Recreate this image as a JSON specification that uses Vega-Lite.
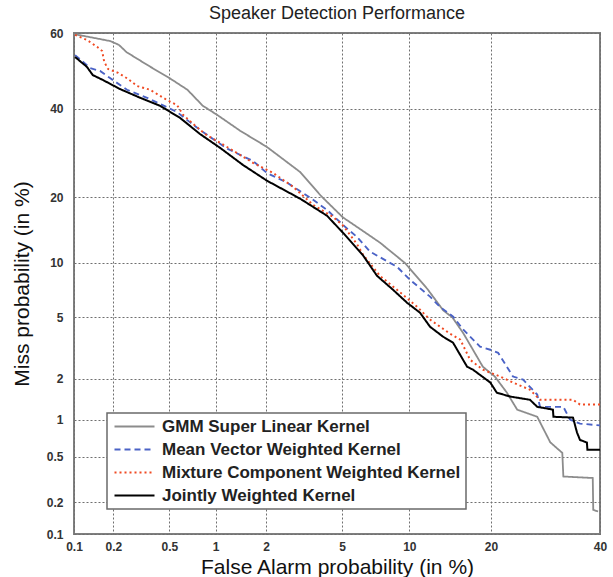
{
  "$schema": "https://vega.github.io/schema/vega-lite/v6.json",
  "width": 526,
  "height": 501,
  "autosize": "none",
  "padding": {"left": 74, "top": 33, "right": 13, "bottom": 43},
  "background": "white",
  "title": {"text": "Speaker Detection Performance", "fontSize": 18, "fontWeight": "normal", "font": "Liberation Sans", "color": "#222", "offset": 4},
  "datasets": {
    "det": [
      {"series": "GMM Super Linear Kernel", "fa": 0.10, "miss": 59.7},
      {"series": "GMM Super Linear Kernel", "fa": 0.13, "miss": 59.0},
      {"series": "GMM Super Linear Kernel", "fa": 0.19, "miss": 57.9},
      {"series": "GMM Super Linear Kernel", "fa": 0.22, "miss": 56.9},
      {"series": "GMM Super Linear Kernel", "fa": 0.25, "miss": 55.0},
      {"series": "GMM Super Linear Kernel", "fa": 0.30, "miss": 53.2},
      {"series": "GMM Super Linear Kernel", "fa": 0.37, "miss": 51.1},
      {"series": "GMM Super Linear Kernel", "fa": 0.51, "miss": 47.9},
      {"series": "GMM Super Linear Kernel", "fa": 0.66, "miss": 45.0},
      {"series": "GMM Super Linear Kernel", "fa": 0.83, "miss": 40.8},
      {"series": "GMM Super Linear Kernel", "fa": 1.02, "miss": 38.5},
      {"series": "GMM Super Linear Kernel", "fa": 1.41, "miss": 34.5},
      {"series": "GMM Super Linear Kernel", "fa": 2.02, "miss": 30.6},
      {"series": "GMM Super Linear Kernel", "fa": 3.07, "miss": 25.0},
      {"series": "GMM Super Linear Kernel", "fa": 3.94, "miss": 20.2},
      {"series": "GMM Super Linear Kernel", "fa": 5.06, "miss": 16.4},
      {"series": "GMM Super Linear Kernel", "fa": 5.89, "miss": 14.9},
      {"series": "GMM Super Linear Kernel", "fa": 7.49, "miss": 12.6},
      {"series": "GMM Super Linear Kernel", "fa": 9.59, "miss": 10.0},
      {"series": "GMM Super Linear Kernel", "fa": 11.8, "miss": 7.3},
      {"series": "GMM Super Linear Kernel", "fa": 13.6, "miss": 5.5},
      {"series": "GMM Super Linear Kernel", "fa": 14.7, "miss": 5.0},
      {"series": "GMM Super Linear Kernel", "fa": 16.1, "miss": 4.0},
      {"series": "GMM Super Linear Kernel", "fa": 17.4, "miss": 3.14},
      {"series": "GMM Super Linear Kernel", "fa": 18.8, "miss": 2.42},
      {"series": "GMM Super Linear Kernel", "fa": 20.6, "miss": 2.07},
      {"series": "GMM Super Linear Kernel", "fa": 22.5, "miss": 1.59},
      {"series": "GMM Super Linear Kernel", "fa": 24.2, "miss": 1.19},
      {"series": "GMM Super Linear Kernel", "fa": 27.7, "miss": 1.05},
      {"series": "GMM Super Linear Kernel", "fa": 30.1, "miss": 0.66},
      {"series": "GMM Super Linear Kernel", "fa": 32.4, "miss": 0.54},
      {"series": "GMM Super Linear Kernel", "fa": 32.6, "miss": 0.34},
      {"series": "GMM Super Linear Kernel", "fa": 38.5, "miss": 0.33},
      {"series": "GMM Super Linear Kernel", "fa": 38.6, "miss": 0.17},
      {"series": "GMM Super Linear Kernel", "fa": 39.6, "miss": 0.164},

      {"series": "Mean Vector Weighted Kernel", "fa": 0.102, "miss": 54.2},
      {"series": "Mean Vector Weighted Kernel", "fa": 0.118, "miss": 52.4},
      {"series": "Mean Vector Weighted Kernel", "fa": 0.133, "miss": 50.8},
      {"series": "Mean Vector Weighted Kernel", "fa": 0.159, "miss": 50.0},
      {"series": "Mean Vector Weighted Kernel", "fa": 0.189, "miss": 48.1},
      {"series": "Mean Vector Weighted Kernel", "fa": 0.252, "miss": 45.0},
      {"series": "Mean Vector Weighted Kernel", "fa": 0.351, "miss": 42.9},
      {"series": "Mean Vector Weighted Kernel", "fa": 0.432, "miss": 41.3},
      {"series": "Mean Vector Weighted Kernel", "fa": 0.563, "miss": 39.2},
      {"series": "Mean Vector Weighted Kernel", "fa": 0.655, "miss": 37.2},
      {"series": "Mean Vector Weighted Kernel", "fa": 0.796, "miss": 34.7},
      {"series": "Mean Vector Weighted Kernel", "fa": 0.963, "miss": 32.5},
      {"series": "Mean Vector Weighted Kernel", "fa": 1.18, "miss": 30.2},
      {"series": "Mean Vector Weighted Kernel", "fa": 1.68, "miss": 27.4},
      {"series": "Mean Vector Weighted Kernel", "fa": 2.02, "miss": 24.8},
      {"series": "Mean Vector Weighted Kernel", "fa": 2.61, "miss": 22.8},
      {"series": "Mean Vector Weighted Kernel", "fa": 3.46, "miss": 19.9},
      {"series": "Mean Vector Weighted Kernel", "fa": 4.22, "miss": 17.7},
      {"series": "Mean Vector Weighted Kernel", "fa": 5.06, "miss": 15.2},
      {"series": "Mean Vector Weighted Kernel", "fa": 5.89, "miss": 13.4},
      {"series": "Mean Vector Weighted Kernel", "fa": 6.76, "miss": 11.4},
      {"series": "Mean Vector Weighted Kernel", "fa": 8.88, "miss": 9.56},
      {"series": "Mean Vector Weighted Kernel", "fa": 10.06, "miss": 8.18},
      {"series": "Mean Vector Weighted Kernel", "fa": 12.1, "miss": 6.6},
      {"series": "Mean Vector Weighted Kernel", "fa": 13.2, "miss": 5.78},
      {"series": "Mean Vector Weighted Kernel", "fa": 14.8, "miss": 5.05},
      {"series": "Mean Vector Weighted Kernel", "fa": 16.1, "miss": 4.21},
      {"series": "Mean Vector Weighted Kernel", "fa": 18.4, "miss": 3.29},
      {"series": "Mean Vector Weighted Kernel", "fa": 19.9, "miss": 3.14},
      {"series": "Mean Vector Weighted Kernel", "fa": 21.1, "miss": 3.0},
      {"series": "Mean Vector Weighted Kernel", "fa": 23.5, "miss": 2.07},
      {"series": "Mean Vector Weighted Kernel", "fa": 25.2, "miss": 1.97},
      {"series": "Mean Vector Weighted Kernel", "fa": 27.7, "miss": 1.54},
      {"series": "Mean Vector Weighted Kernel", "fa": 28.2, "miss": 1.25},
      {"series": "Mean Vector Weighted Kernel", "fa": 32.6, "miss": 1.25},
      {"series": "Mean Vector Weighted Kernel", "fa": 33.9, "miss": 1.0},
      {"series": "Mean Vector Weighted Kernel", "fa": 35.9, "miss": 0.93},
      {"series": "Mean Vector Weighted Kernel", "fa": 40.0, "miss": 0.9},

      {"series": "Mixture Component Weighted Kernel", "fa": 0.102, "miss": 59.5},
      {"series": "Mixture Component Weighted Kernel", "fa": 0.126, "miss": 58.2},
      {"series": "Mixture Component Weighted Kernel", "fa": 0.151, "miss": 56.4},
      {"series": "Mixture Component Weighted Kernel", "fa": 0.165, "miss": 55.3},
      {"series": "Mixture Component Weighted Kernel", "fa": 0.171, "miss": 52.4},
      {"series": "Mixture Component Weighted Kernel", "fa": 0.183, "miss": 50.5},
      {"series": "Mixture Component Weighted Kernel", "fa": 0.217, "miss": 49.5},
      {"series": "Mixture Component Weighted Kernel", "fa": 0.256, "miss": 47.9},
      {"series": "Mixture Component Weighted Kernel", "fa": 0.298, "miss": 46.0},
      {"series": "Mixture Component Weighted Kernel", "fa": 0.368, "miss": 45.0},
      {"series": "Mixture Component Weighted Kernel", "fa": 0.482, "miss": 42.3},
      {"series": "Mixture Component Weighted Kernel", "fa": 0.563, "miss": 41.0},
      {"series": "Mixture Component Weighted Kernel", "fa": 0.617, "miss": 38.5},
      {"series": "Mixture Component Weighted Kernel", "fa": 0.718, "miss": 36.2},
      {"series": "Mixture Component Weighted Kernel", "fa": 0.857, "miss": 33.7},
      {"series": "Mixture Component Weighted Kernel", "fa": 1.176, "miss": 30.6},
      {"series": "Mixture Component Weighted Kernel", "fa": 1.68, "miss": 27.0},
      {"series": "Mixture Component Weighted Kernel", "fa": 2.19, "miss": 24.8},
      {"series": "Mixture Component Weighted Kernel", "fa": 2.81, "miss": 22.0},
      {"series": "Mixture Component Weighted Kernel", "fa": 3.58, "miss": 18.6},
      {"series": "Mixture Component Weighted Kernel", "fa": 4.52, "miss": 16.5},
      {"series": "Mixture Component Weighted Kernel", "fa": 5.06, "miss": 15.1},
      {"series": "Mixture Component Weighted Kernel", "fa": 5.89, "miss": 12.4},
      {"series": "Mixture Component Weighted Kernel", "fa": 6.29, "miss": 11.0},
      {"series": "Mixture Component Weighted Kernel", "fa": 7.49, "miss": 8.58},
      {"series": "Mixture Component Weighted Kernel", "fa": 8.88, "miss": 7.21},
      {"series": "Mixture Component Weighted Kernel", "fa": 10.75, "miss": 5.78},
      {"series": "Mixture Component Weighted Kernel", "fa": 12.1, "miss": 4.85},
      {"series": "Mixture Component Weighted Kernel", "fa": 14.4, "miss": 3.98},
      {"series": "Mixture Component Weighted Kernel", "fa": 15.7, "miss": 3.65},
      {"series": "Mixture Component Weighted Kernel", "fa": 17.0, "miss": 2.70},
      {"series": "Mixture Component Weighted Kernel", "fa": 18.8, "miss": 2.31},
      {"series": "Mixture Component Weighted Kernel", "fa": 21.4, "miss": 2.07},
      {"series": "Mixture Component Weighted Kernel", "fa": 23.5, "miss": 1.88},
      {"series": "Mixture Component Weighted Kernel", "fa": 26.4, "miss": 1.67},
      {"series": "Mixture Component Weighted Kernel", "fa": 28.2, "miss": 1.41},
      {"series": "Mixture Component Weighted Kernel", "fa": 34.5, "miss": 1.41},
      {"series": "Mixture Component Weighted Kernel", "fa": 35.9, "miss": 1.30},
      {"series": "Mixture Component Weighted Kernel", "fa": 40.0, "miss": 1.30},

      {"series": "Jointly Weighted Kernel", "fa": 0.102, "miss": 53.7},
      {"series": "Jointly Weighted Kernel", "fa": 0.126, "miss": 51.1},
      {"series": "Jointly Weighted Kernel", "fa": 0.140, "miss": 48.9},
      {"series": "Jointly Weighted Kernel", "fa": 0.167, "miss": 47.6},
      {"series": "Jointly Weighted Kernel", "fa": 0.224, "miss": 45.2},
      {"series": "Jointly Weighted Kernel", "fa": 0.313, "miss": 42.9},
      {"series": "Jointly Weighted Kernel", "fa": 0.432, "miss": 40.8},
      {"series": "Jointly Weighted Kernel", "fa": 0.590, "miss": 37.7},
      {"series": "Jointly Weighted Kernel", "fa": 0.796, "miss": 33.7},
      {"series": "Jointly Weighted Kernel", "fa": 1.065, "miss": 30.4},
      {"series": "Jointly Weighted Kernel", "fa": 1.47, "miss": 26.5},
      {"series": "Jointly Weighted Kernel", "fa": 2.02, "miss": 23.2},
      {"series": "Jointly Weighted Kernel", "fa": 3.07, "miss": 19.7},
      {"series": "Jointly Weighted Kernel", "fa": 4.22, "miss": 16.7},
      {"series": "Jointly Weighted Kernel", "fa": 5.06, "miss": 14.0},
      {"series": "Jointly Weighted Kernel", "fa": 6.29, "miss": 10.9},
      {"series": "Jointly Weighted Kernel", "fa": 7.27, "miss": 8.58},
      {"series": "Jointly Weighted Kernel", "fa": 8.54, "miss": 7.21},
      {"series": "Jointly Weighted Kernel", "fa": 9.78, "miss": 6.10},
      {"series": "Jointly Weighted Kernel", "fa": 11.05, "miss": 5.33},
      {"series": "Jointly Weighted Kernel", "fa": 12.1, "miss": 4.39},
      {"series": "Jointly Weighted Kernel", "fa": 13.57, "miss": 3.81},
      {"series": "Jointly Weighted Kernel", "fa": 14.78, "miss": 3.49},
      {"series": "Jointly Weighted Kernel", "fa": 16.6, "miss": 2.42},
      {"series": "Jointly Weighted Kernel", "fa": 17.4, "miss": 2.31},
      {"series": "Jointly Weighted Kernel", "fa": 19.9, "miss": 1.88},
      {"series": "Jointly Weighted Kernel", "fa": 20.9, "miss": 1.59},
      {"series": "Jointly Weighted Kernel", "fa": 23.0, "miss": 1.49},
      {"series": "Jointly Weighted Kernel", "fa": 26.4, "miss": 1.41},
      {"series": "Jointly Weighted Kernel", "fa": 27.7, "miss": 1.25},
      {"series": "Jointly Weighted Kernel", "fa": 30.6, "miss": 1.19},
      {"series": "Jointly Weighted Kernel", "fa": 30.7, "miss": 1.05},
      {"series": "Jointly Weighted Kernel", "fa": 34.5, "miss": 1.035},
      {"series": "Jointly Weighted Kernel", "fa": 35.3, "miss": 0.79},
      {"series": "Jointly Weighted Kernel", "fa": 35.9, "miss": 0.69},
      {"series": "Jointly Weighted Kernel", "fa": 37.3, "miss": 0.657},
      {"series": "Jointly Weighted Kernel", "fa": 37.4, "miss": 0.575},
      {"series": "Jointly Weighted Kernel", "fa": 40.0, "miss": 0.575}
    ]
  },
  "data": {"name": "det"},
  "transform": [
    {"calculate": "quantileNormal(datum.fa / 100)", "as": "fz"},
    {"calculate": "quantileNormal(datum.miss / 100)", "as": "mz"}
  ],
  "mark": {"type": "line", "clip": true},
  "encoding": {
    "x": {
      "field": "fz", "type": "quantitative",
      "scale": {"domain": [-3.0902, -0.2533], "nice": false, "zero": false},
      "axis": {
        "title": "False Alarm probability (in %)",
        "grid": true,
        "values": [-3.0902, -2.8782, -2.5758, -2.3263, -2.0537, -1.6449, -1.2816, -0.8416, -0.2533],
        "labelExpr": "format(cumulativeNormal(datum.value) * 100, '.1r')"
      }
    },
    "y": {
      "field": "mz", "type": "quantitative",
      "scale": {"domain": [-3.0902, 0.2533], "nice": false, "zero": false},
      "axis": {
        "title": "Miss probability (in %)",
        "grid": true,
        "values": [-3.0902, -2.8782, -2.5758, -2.3263, -2.0537, -1.6449, -1.2816, -0.8416, -0.2533, 0.2533],
        "labelExpr": "format(cumulativeNormal(datum.value) * 100, '.1r')"
      }
    },
    "color": {
      "field": "series", "type": "nominal",
      "scale": {
        "domain": ["GMM Super Linear Kernel", "Mean Vector Weighted Kernel", "Mixture Component Weighted Kernel", "Jointly Weighted Kernel"],
        "range": ["#8c8c8c", "#4a62c6", "#f04a23", "#000000"]
      },
      "legend": {"title": null}
    },
    "strokeDash": {
      "field": "series", "type": "nominal",
      "scale": {
        "domain": ["GMM Super Linear Kernel", "Mean Vector Weighted Kernel", "Mixture Component Weighted Kernel", "Jointly Weighted Kernel"],
        "range": [[1, 0], [6, 4], [2, 3], [1, 0]]
      },
      "legend": {"title": null}
    },
    "strokeWidth": {
      "field": "series", "type": "nominal",
      "scale": {
        "domain": ["GMM Super Linear Kernel", "Mean Vector Weighted Kernel", "Mixture Component Weighted Kernel", "Jointly Weighted Kernel"],
        "range": [1.8, 2, 2.6, 2.2]
      },
      "legend": {"title": null}
    }
  },
  "config": {
    "font": "Liberation Sans",
    "view": {"stroke": "#7f7f7f", "strokeWidth": 2},
    "axis": {
      "domain": false,
      "tickColor": "transparent", "tickSize": 5,
      "gridColor": "#6f6f6f", "gridDash": [2, 2], "gridWidth": 1, "gridOpacity": 1,
      "labelFont": "Liberation Sans", "labelFontSize": 12, "labelFontWeight": "bold", "labelColor": "#333333",
      "labelOverlap": false, "labelFlush": false,
      "titleFont": "Liberation Sans", "titleFontSize": 21, "titleFontWeight": "normal", "titleColor": "#111111"
    },
    "axisX": {"labelPadding": 2, "titlePadding": 4},
    "axisY": {"labelPadding": 6, "titlePadding": 14},
    "legend": {
      "orient": "none", "legendX": 33, "legendY": 380,
      "fillColor": "white", "strokeColor": "#6a6a6a", "strokeWidth": 1.5, "padding": 5,
      "symbolType": "M-1,0H5.667", "symbolSize": 144, "labelOffset": 33,
      "labelFont": "Liberation Sans", "labelFontSize": 17, "labelFontWeight": "bold", "labelColor": "#222222",
      "labelLimit": 500, "rowPadding": 5
    }
  }
}
